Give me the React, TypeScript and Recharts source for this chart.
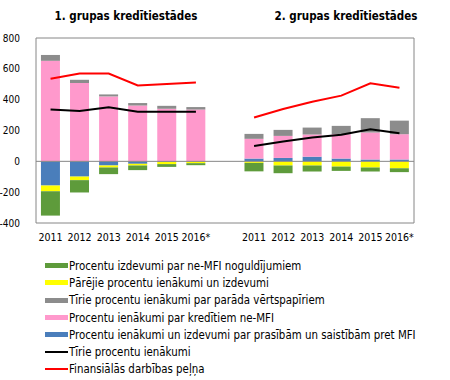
import { ComposedChart, Bar, Line, XAxis, YAxis, CartesianGrid, ReferenceLine } from "recharts";

const categories = ["2011", "2012", "2013", "2014", "2015", "2016*", "", "2011", "2012", "2013", "2014", "2015", "2016*"];

// null in the middle = gap between the two groups
const mfiClaims = [-157, -99, -27, -16, -4, -2, null, 18, 22, 30, 18, 12, 12];
const loansNonMfi = [652, 508, 421, 362, 341, 336, null, 128, 143, 144, 158, 175, 164];
const debtSecurities = [38, 21, 13, 16, 19, 16, null, 32, 39, 45, 54, 93, 88];
const otherIncome = [-37, -23, -13, -11, -14, -10, null, -10, -27, -27, -34, -40, -45];
const depositExpenses = [-158, -80, -43, -30, -18, -13, null, -55, -50, -39, -28, -26, -25];
const netInterest = [336, 327, 351, 322, 322, 322, null, 100, 128, 154, 172, 208, 182];
const financialProfit = [535, 570, 570, 492, 501, 512, null, 284, 340, 387, 426, 506, 478];

const yTicks = [-400, -200, 0, 200, 400, 600, 800];

const COLORS = {
  green: "#5E9B3B",
  yellow: "#FFFF00",
  gray: "#8C8C8C",
  pink: "#FF99CC",
  blue: "#4A7EBB",
  black: "#000000",
  red: "#FF0000",
};

const legendItems = [
  { name: "Procentu izdevumi par ne-MFI noguldījumiem", color: COLORS.green, line: false },
  { name: "Pārējie procentu ienākumi un izdevumi", color: COLORS.yellow, line: false },
  { name: "Tīrie procentu ienākumi par parāda vērtspapīriem", color: COLORS.gray, line: false },
  { name: "Procentu ienākumi par kredītiem ne-MFI", color: COLORS.pink, line: false },
  { name: "Procentu ienākumi un izdevumi par prasībām un saistībām pret MFI", color: COLORS.blue, line: false },
  { name: "Tīrie procentu ienākumi", color: COLORS.black, line: true },
  { name: "Finansiālās darbības peļņa", color: COLORS.red, line: true },
];

const FONT = "'DejaVu Sans Condensed', 'DejaVu Sans', sans-serif";
const axisColor = "#868686";

export default function App() {
  const chartData = categories.map((cat, i) => ({
    cat,
    mfiClaims: mfiClaims[i],
    loansNonMfi: loansNonMfi[i],
    debtSecurities: debtSecurities[i],
    otherIncome: otherIncome[i],
    depositExpenses: depositExpenses[i],
    netInterest: netInterest[i],
    financialProfit: financialProfit[i],
  }));

  const tick = { fill: "#000", fontSize: 10.5, fontFamily: FONT };

  return <div style={{ position: "absolute", left: 0, top: 0, width: 450, height: 380, background: "#fff", fontFamily: FONT }}>
      <div style={{ position: "absolute", left: 26, width: 200, top: 9, textAlign: "center", fontWeight: "bold", fontSize: 11.5 }}>
        1. grupas kredītiestādes
      </div>
      <div style={{ position: "absolute", left: 246, width: 200, top: 9, textAlign: "center", fontWeight: "bold", fontSize: 11.5 }}>
        2. grupas kredītiestādes
      </div>
      <div style={{ position: "absolute", left: 0, top: 0 }}>
        <ComposedChart width={450} height={250} data={chartData} stackOffset="sign" barCategoryGap="17%" margin={{
        top: 38,
        right: 0,
        left: 0,
        bottom: 0
      }}>
          <CartesianGrid vertical={false} stroke={axisColor} />
          <XAxis dataKey="cat" axisLine={false} tickLine={false} tick={tick} tickMargin={5} height={27} interval={0} />
          <YAxis yAxisId="left" domain={[-400, 800]} ticks={yTicks} width={36} stroke={axisColor} tickLine={false} tickMargin={10} tick={{ ...tick, fontSize: 10 }} />
          <YAxis yAxisId="right" orientation="right" domain={[-400, 800]} ticks={yTicks} width={36} stroke={axisColor} tickSize={4} tickMargin={6} tick={{ ...tick, fontSize: 10 }} />
          <ReferenceLine yAxisId="left" y={0} stroke={axisColor} />
          <Bar yAxisId="left" dataKey="mfiClaims" stackId="a" fill={COLORS.blue} isAnimationActive={false} />
          <Bar yAxisId="left" dataKey="loansNonMfi" stackId="a" fill={COLORS.pink} isAnimationActive={false} />
          <Bar yAxisId="left" dataKey="debtSecurities" stackId="a" fill={COLORS.gray} isAnimationActive={false} />
          <Bar yAxisId="left" dataKey="otherIncome" stackId="a" fill={COLORS.yellow} isAnimationActive={false} />
          <Bar yAxisId="left" dataKey="depositExpenses" stackId="a" fill={COLORS.green} isAnimationActive={false} />
          <Line yAxisId="left" type="linear" dataKey="netInterest" stroke={COLORS.black} strokeWidth={2} dot={false} isAnimationActive={false} />
          <Line yAxisId="left" type="linear" dataKey="financialProfit" stroke={COLORS.red} strokeWidth={2} dot={false} isAnimationActive={false} />
        </ComposedChart>
      </div>
      <div style={{ position: "absolute", left: 45, top: 257, fontSize: 11.4 }}>
        {legendItems.map(item => <div key={item.name} style={{ display: "flex", alignItems: "center", height: 17.3 }}>
            <div style={{ width: 23, height: item.line ? 2 : 5, background: item.color, marginRight: 1 }} />
            <span>{item.name}</span>
          </div>)}
      </div>
    </div>;
}
